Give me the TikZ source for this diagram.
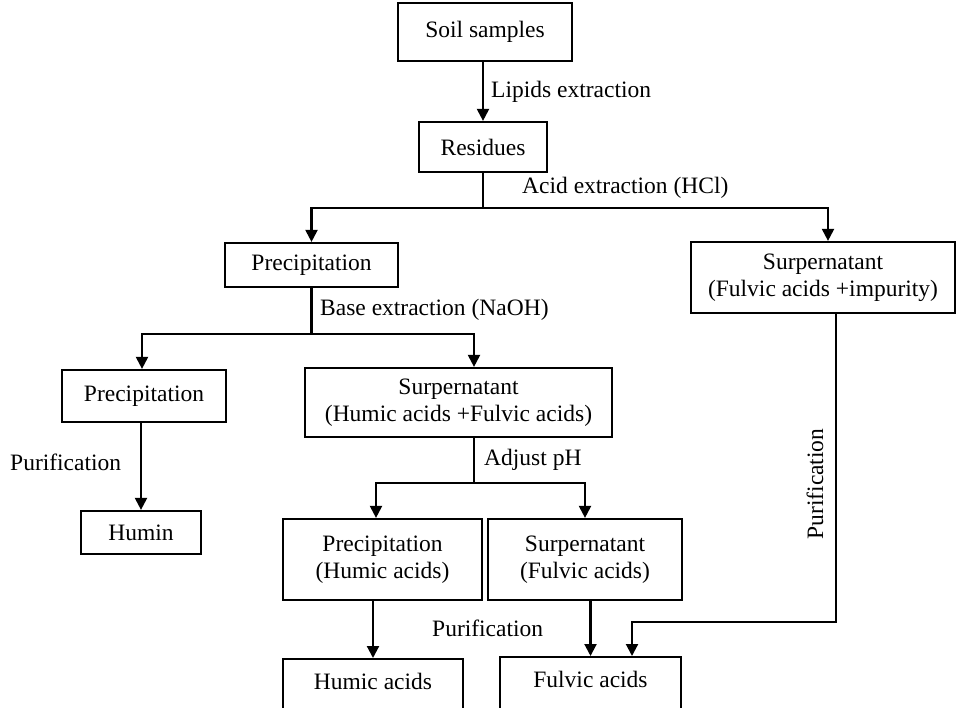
\documentclass[tikz,border=0pt]{standalone}
\usepackage{fontspec}
\setmainfont{Liberation Serif}
\usetikzlibrary{arrows.meta,calc}
\begin{document}
\begin{tikzpicture}[x=1pt,y=-1pt,
  txt/.style={font=\fontsize{23.5}{27}\selectfont},
  box/.style={txt, draw, line width=2.2pt, inner sep=0pt, align=center},
  lab/.style={txt, anchor=west, inner sep=0pt},
  conn/.style={line width=2.1pt},
  arr/.style={conn, -{Triangle[width=12pt,length=12pt]}}]
\useasboundingbox (0,0) rectangle (957,708);
\clip (0,0) rectangle (957,708);
% boxes
\node[box, minimum width=174pt, minimum height=58pt] (soil) at (485,32) {Soil samples};
\node[box, minimum width=128pt, minimum height=50pt] (res) at (483,147) {Residues};
\node[box, minimum width=173pt, minimum height=44pt] (prec1) at (311.5,265) {Precipitation};
\node[box, minimum width=264pt, minimum height=71pt] (surR) at (823,277.5) {Surpernatant\\(Fulvic acids +impurity)};
\node[box, minimum width=164pt, minimum height=52pt] (prec2) at (144,396) {Precipitation};
\node[box, minimum width=307pt, minimum height=69pt] (surM) at (458.5,402.5) {Surpernatant\\(Humic acids +Fulvic acids)};
\node[box, minimum width=120pt, minimum height=43pt] (humin) at (141,532.5) {Humin};
\node[box, minimum width=199pt, minimum height=81pt] (precH) at (382.5,559.5) {Precipitation\\(Humic acids)};
\node[box, minimum width=194pt, minimum height=81pt] (surF) at (585,559.5) {Surpernatant\\(Fulvic acids)};
\node[box, anchor=north, minimum width=180pt, inner ysep=5pt, text height=25pt, text depth=40pt] (humic) at (373,658) {Humic acids};
\node[box, anchor=north, minimum width=181pt, inner ysep=5pt, text height=25pt, text depth=40pt] (fulvic) at (590.5,656) {Fulvic acids};
% labels
\node[lab] (l1) at (491,92) {Lipids extraction};
\node[lab] (l2) at (522,188) {Acid extraction (HCl)};
\node[lab] (l3) at (320,310) {Base extraction (NaOH)};
\node[lab] (l4) at (484,460) {Adjust pH};
\node[lab] (l5) at (10,462) {Purification};
\node[lab] (l6) at (432,628) {Purification};
\node[txt, inner sep=0pt, rotate=90] (l7) at (815,484) {Purification};
% junctions
\coordinate (j1) at (483,208);
\coordinate (j2) at (311.5,334);
\coordinate (j3) at (474,483);
\coordinate (k) at (632,622);
% connectors
\draw[arr] (res.north |- soil.south) -- (res.north);
\draw[conn] (res.south) -- (j1);
\draw[arr] (j1) -| (prec1.north);
\draw[arr] (j1) -| ([xshift=5pt]surR.north);
\draw[conn] (prec1.south) -- (j2);
\draw[arr] (j2) -| ([xshift=-2pt]prec2.north);
\draw[arr] (j2) -| ([xshift=15.5pt]surM.north);
\draw[arr] (humin.north |- prec2.south) -- (humin.north);
\draw[conn] ([xshift=15.5pt]surM.south) -- (j3);
\draw[arr] (j3) -| ([xshift=-6.5pt]precH.north);
\draw[arr] (j3) -| (surF.north);
\draw[arr] (humic.north |- precH.south) -- (humic.north);
\draw[arr] (fulvic.north |- surF.south) -- (fulvic.north);
\draw[arr] ([xshift=13pt]surR.south) |- (k) -- (k |- fulvic.north);
\end{tikzpicture}
\end{document}
